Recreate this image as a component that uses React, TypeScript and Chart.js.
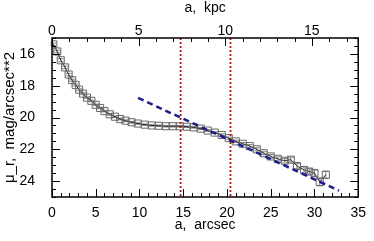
import React, { useEffect, useRef } from "react";
import { Chart, registerables } from "chart.js";

Chart.register(...registerables);

// ---- data ----
const radiusArcsec = [
  0.15, 0.6, 1.0, 1.5, 1.9, 2.3, 2.7, 3.1, 3.55, 4.0, 4.5, 5.0, 5.5, 6.0, 6.6, 7.2, 7.8, 8.4, 9.1, 9.8,
  10.6, 11.4, 12.2, 13.0, 13.8, 14.6, 15.4, 16.2, 17.0, 17.8, 18.6, 19.4, 20.2, 21.0, 21.8, 22.6, 23.4,
  24.2, 25.0, 25.8, 26.6, 27.3, 28.0, 28.8, 29.4, 30.0, 30.6, 31.3,
];
const muR = [
  15.4, 15.85, 16.4, 16.85, 17.3, 17.65, 17.95, 18.25, 18.5, 18.75, 18.95, 19.2, 19.4, 19.6, 19.8, 19.95,
  20.1, 20.2, 20.3, 20.38, 20.45, 20.5, 20.52, 20.55, 20.55, 20.55, 20.58, 20.62, 20.7, 20.82, 20.95, 21.1,
  21.3, 21.5, 21.65, 21.8, 22.0, 22.25, 22.45, 22.6, 22.72, 22.65, 23.05, 23.3, 23.4, 23.5, 24.05, 23.6,
];
const muErr = [
  0.08, 0.08, 0.1, 0.08, 0.08, 0.06, 0.06, 0.06, 0.06, 0.05, 0.05, 0.05, 0.05, 0.05, 0.05, 0.05,
  0.05, 0.05, 0.05, 0.05, 0.05, 0.05, 0.05, 0.05, 0.05, 0.05, 0.05, 0.05, 0.06, 0.06, 0.06, 0.07,
  0.07, 0.08, 0.08, 0.1, 0.1, 0.1, 0.12, 0.12, 0.14, 0.15, 0.15, 0.18, 0.18, 0.2, 0.25, 0.22,
];
const fitX = [9.84, 32.8];
const fitY = [18.77, 24.6];
const breakRadii = [14.7, 20.4];
const KPC_PER_ARCSEC = 0.505;

const xRange = [0, 35];
const yRange = [15, 25];
const xTicks = [0, 5, 10, 15, 20, 25, 30, 35];
const kpcTicks = [0, 5, 10, 15];
const yTicks = [16, 18, 20, 22, 24];

const FONT = "'Liberation Sans', Arial, sans-serif";

const frameTicksPlugin = {
  id: "frameTicks",
  beforeDatasetsDraw(chart: any) {
    const { ctx, scales } = chart;
    const x = scales.x, y = scales.y;
    ctx.save();
    ctx.strokeStyle = "#888";
    ctx.lineWidth = 1;
    for (let i = 0; i < radiusArcsec.length; i++) {
      const px = x.getPixelForValue(radiusArcsec[i]);
      const y1 = y.getPixelForValue(muR[i] - muErr[i]);
      const y2 = y.getPixelForValue(muR[i] + muErr[i]);
      ctx.beginPath();
      ctx.moveTo(px, y1); ctx.lineTo(px, y2);
      ctx.moveTo(px - 3, y1); ctx.lineTo(px + 3, y1);
      ctx.moveTo(px - 3, y2); ctx.lineTo(px + 3, y2);
      ctx.stroke();
    }
    ctx.restore();
  },
  afterDraw(chart: any) {
    const { ctx, chartArea, scales } = chart;
    const { left, right, top, bottom } = chartArea;
    ctx.save();
    ctx.strokeStyle = "#000";
    ctx.lineWidth = 1;
    ctx.beginPath();
    for (let v = xRange[0]; v <= xRange[1]; v += 1) {
      const px = Math.round(scales.x.getPixelForValue(v)) + 0.5;
      const len = v % 5 === 0 ? 8 : 4;
      ctx.moveTo(px, bottom); ctx.lineTo(px, bottom - len);
    }
    for (let v = 0; v <= xRange[1] * KPC_PER_ARCSEC; v += 1) {
      const px = Math.round(scales.x2.getPixelForValue(v)) + 0.5;
      const len = v % 5 === 0 ? 8 : 4;
      ctx.moveTo(px, top); ctx.lineTo(px, top + len);
    }
    for (let v = yRange[0]; v <= yRange[1] + 1e-6; v += 0.5) {
      const py = Math.round(scales.y.getPixelForValue(v)) + 0.5;
      const len = Math.abs(v % 2) < 1e-6 ? 8 : 4;
      ctx.moveTo(left, py); ctx.lineTo(left + len, py);
      ctx.moveTo(right, py); ctx.lineTo(right - len, py);
    }
    ctx.stroke();
    ctx.lineWidth = 1.5;
    ctx.strokeRect(left, top, right - left, bottom - top);
    ctx.restore();
  },
};

export default function App() {
  const ref = useRef<HTMLCanvasElement | null>(null);
  useEffect(() => {
    if (!ref.current) return;
    const tickFont = { family: FONT, size: 14 };
    const chart = new Chart(ref.current, {
      type: "scatter",
      data: {
        datasets: [
          {
            data: fitX.map((v, i) => ({ x: v, y: fitY[i] })),
            showLine: true,
            borderColor: "#1c1c8a",
            borderWidth: 2.5,
            borderDash: [6, 4],
            pointRadius: 0,
          },
          ...breakRadii.map((r) => ({
            data: [{ x: r, y: yRange[0] }, { x: r, y: yRange[1] }],
            showLine: true,
            borderColor: "#a81c1c",
            borderWidth: 1.8,
            borderDash: [2, 2],
            pointRadius: 0,
          })),
          {
            data: radiusArcsec.map((v, i) => ({ x: v, y: muR[i] })),
            showLine: true,
            borderColor: "#222",
            borderWidth: 1,
            pointStyle: "rect",
            pointRadius: 5,
            pointBorderColor: "#666",
            pointBorderWidth: 1,
            pointBackgroundColor: "rgba(0,0,0,0)",
          },
        ],
      } as any,
      options: {
        animation: false,
        responsive: true,
        maintainAspectRatio: false,
        layout: { padding: 0 },
        plugins: { legend: { display: false }, tooltip: { enabled: false } },
        scales: {
          x: {
            type: "linear",
            position: "bottom",
            min: xRange[0],
            max: xRange[1],
            afterBuildTicks: (s: any) => { s.ticks = xTicks.map((v) => ({ value: v })); },
            afterFit: (s: any) => { s.height = 44; },
            grid: { display: false, drawTicks: false },
            border: { display: false },
            ticks: { autoSkip: false, maxRotation: 0, padding: 8, color: "#000", font: tickFont },
            title: { display: true, text: "a,  arcsec", color: "#000", font: { family: FONT, size: 14 }, padding: { top: 0, bottom: 7 } },
          },
          x2: {
            type: "linear",
            axis: "x",
            position: "top",
            min: 0,
            max: xRange[1] * KPC_PER_ARCSEC,
            afterBuildTicks: (s: any) => { s.ticks = kpcTicks.map((v) => ({ value: v })); },
            afterFit: (s: any) => { s.height = 38; },
            grid: { display: false, drawTicks: false },
            border: { display: false },
            ticks: { autoSkip: false, maxRotation: 0, padding: -2, color: "#000", font: tickFont },
            title: { display: true, text: "a,  kpc", color: "#000", font: { family: FONT, size: 14 }, padding: { top: 0, bottom: 0 } },
          },
          y: {
            type: "linear",
            position: "left",
            reverse: true,
            min: yRange[0],
            max: yRange[1],
            afterBuildTicks: (s: any) => { s.ticks = yTicks.map((v) => ({ value: v })); },
            afterFit: (s: any) => { s.width = 52; },
            grid: { display: false, drawTicks: false },
            border: { display: false },
            ticks: { autoSkip: false, padding: 17, color: "#000", font: tickFont },
            title: { display: true, text: "μ_r,  mag/arcsec**2", color: "#000", font: { family: FONT, size: 15 }, padding: { top: 1, bottom: 0 } },
          },
          y2: {
            type: "linear",
            position: "right",
            reverse: true,
            min: yRange[0],
            max: yRange[1],
            afterFit: (s: any) => { s.width = 15; },
            grid: { display: false, drawTicks: false },
            border: { display: false },
            ticks: { display: false },
          },
        },
      } as any,
      plugins: [frameTicksPlugin],
    });
    return () => chart.destroy();
  }, []);
  return (
    <div style={{ position: "fixed", left: 0, top: 0, width: 374, height: 241, background: "#fff" }}>
      <canvas ref={ref} />
    </div>
  );
}
